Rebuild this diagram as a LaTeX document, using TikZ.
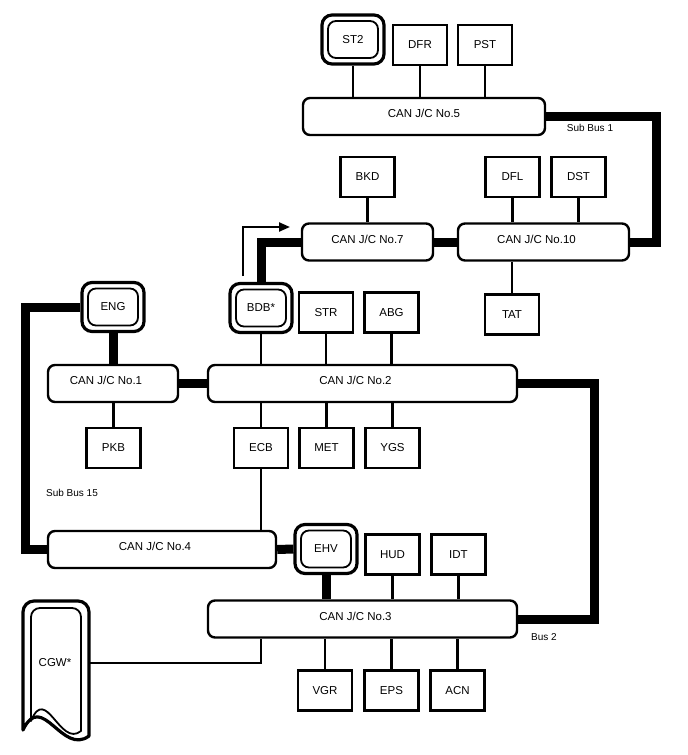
\documentclass[tikz,border=0pt]{standalone}
\usepackage{fontspec}
\setmainfont{Liberation Sans}
\usetikzlibrary{arrows.meta}

\begin{document}
\begin{tikzpicture}[x=1pt, y=-1pt,
    every node/.style={font=\fontsize{11.5}{13}\selectfont},
    ecu/.style={rectangle, draw, fill=white, line width=2.2pt,
                minimum width=54pt, minimum height=40pt, inner sep=0pt},
    gw/.style={rectangle, draw, fill=white, line width=3.2pt, rounded corners=10pt,
               minimum width=62pt, minimum height=49pt, inner sep=0pt,
               path picture={\draw[line width=1.8pt, rounded corners=8pt]
                 ([shift={(6pt,6pt)}]path picture bounding box.south west) rectangle
                 ([shift={(-6pt,-6pt)}]path picture bounding box.north east);}},
    jc/.style={rectangle, draw, fill=white, line width=2.4pt, rounded corners=7pt,
               minimum height=37pt, inner sep=0pt, text height=8.5pt, text depth=6pt},
    offset/.style={execute at end node={\hspace*{14pt}}},
    link/.style={line width=2.2pt},
    trunk/.style={line width=9pt},
    buslabel/.style={font=\fontsize{10}{12}\selectfont},
  ]
  \useasboundingbox (0,0) rectangle (688,755);

  % top group
  \node[gw] (st2) at (353,39.5) {ST2};
  \node[ecu] (dfr) at (420,45) {DFR};
  \node[ecu] (pst) at (485,45) {PST};
  \node[jc, minimum width=242pt] (jc5) at (424,116.5) {CAN J/C No.5};

  \node[ecu] (bkd) at (367.5,177) {BKD};
  \node[ecu] (dfl) at (512.5,177) {DFL};
  \node[ecu] (dst) at (578.5,177) {DST};
  \node[jc, minimum width=131pt] (jc7) at (367.5,242) {CAN J/C No.7};
  \node[jc, offset, minimum width=171pt] (jc10) at (543.5,242) {CAN J/C No.10};
  \node[ecu] (tat) at (512,314.5) {TAT};

  % middle group
  \node[gw] (eng) at (113,307) {ENG};
  \node[gw] (bdb) at (261,308) {BDB*};
  \node[ecu] (str) at (326,312.5) {STR};
  \node[ecu] (abg) at (391.5,312.5) {ABG};
  \node[jc, offset, minimum width=130pt] (jc1) at (113,383.5) {CAN J/C No.1};
  \node[jc, offset, minimum width=309pt] (jc2) at (362.5,383.5) {CAN J/C No.2};
  \node[ecu] (pkb) at (113.5,448) {PKB};
  \node[ecu] (ecb) at (261,448) {ECB};
  \node[ecu] (met) at (326.5,448) {MET};
  \node[ecu] (ygs) at (392.5,448) {YGS};

  % bottom group
  \node[jc, offset, minimum width=228pt] (jc4) at (162,549.5) {CAN J/C No.4};
  \node[gw] (ehv) at (326,549) {EHV};
  \node[ecu] (hud) at (392.5,554.5) {HUD};
  \node[ecu] (idt) at (458.5,554.5) {IDT};
  \node[jc, offset, minimum width=309pt] (jc3) at (362.5,619) {CAN J/C No.3};
  \node[ecu] (vgr) at (325,690.5) {VGR};
  \node[ecu] (eps) at (391.5,690.5) {EPS};
  \node[ecu] (acn) at (457.5,690.5) {ACN};

  \node[minimum width=66pt, minimum height=124pt, inner sep=0pt] (cgw) at (55,663) {CGW*};
  \draw[line width=3.2pt, line join=round]
    (23,730) -- (23,612) to[out=90, in=180] (34,601) -- (78,601)
    to[out=0, in=90] (89,612) -- (89,736)
    .. controls (62,756) and (42,690) .. (23,730) -- cycle;
  \draw[line width=1.8pt, line join=round]
    (31,721) -- (31,617) to[out=90, in=180] (40,608) -- (72,608)
    to[out=0, in=90] (81,617) -- (81,731)
    .. controls (60,748) and (46,684) .. (31,721) -- cycle;

  \coordinate (sb1) at (656,242);
  \coordinate (sb15) at (25,549.5);
  \coordinate (b2) at (594,619);
  \coordinate (j3w) at (261,619);
  \coordinate (fwd0) at (243,276);
  \coordinate (fwd1) at (290,227);

  \node[buslabel] (sb1txt) at (590,128) {Sub Bus 1};
  \node[buslabel] (sb15txt) at (72,493) {Sub Bus 15};
  \node[buslabel] (b2txt) at (544,637) {Bus 2};

  % branch lines
  \draw[link] (st2) -- (st2 |- jc5.north);
  \draw[link] (dfr) -- (dfr |- jc5.north);
  \draw[link] (pst) -- (pst |- jc5.north);
  \draw[link] (bkd) -- (bkd |- jc7.north);
  \draw[link] (dfl) -- (dfl |- jc10.north);
  \draw[link] (dst) -- (dst |- jc10.north);
  \draw[link] (tat) -- (tat |- jc10.south);
  \draw[link] (bdb) -- (bdb |- jc2.north);
  \draw[link] (str) -- (str |- jc2.north);
  \draw[link] (abg) -- (abg |- jc2.north);
  \draw[link] (pkb) -- (pkb |- jc1.south);
  \draw[link] (ecb) -- (ecb |- jc2.south);
  \draw[link] (met) -- (met |- jc2.south);
  \draw[link] (ygs) -- (ygs |- jc2.south);
  \draw[link] (ecb) -- (ecb |- jc4.north);
  \draw[link] (hud) -- (hud |- jc3.north);
  \draw[link] (idt) -- (idt |- jc3.north);
  \draw[link] (vgr) -- (vgr |- jc3.south);
  \draw[link] (eps) -- (eps |- jc3.south);
  \draw[link] (acn) -- (acn |- jc3.south);
  \draw[link] (cgw.east) -| (j3w |- jc3.south);
  \draw[link, -{Triangle[length=11pt, width=9pt]}] (fwd0) |- (fwd1);

  % bus lines
  \draw[trunk] (jc5.east) -| (sb1) -- (jc10.east);
  \draw[trunk] (jc7.east) -- (jc10.west);
  \draw[trunk] (bdb.north) |- (jc7.west);
  \draw[trunk] (eng.south) -- (eng.south |- jc1.north);
  \draw[trunk] (jc1.east) -- (jc2.west);
  \draw[trunk] (eng.west) -| (sb15) -- (jc4.west);
  \draw[trunk] (jc2.east) -| (b2) -- (jc3.east);
  \draw[trunk] (jc4.east) -- (ehv.west);
  \draw[trunk] (ehv.south) -- (ehv.south |- jc3.north);
\end{tikzpicture}
\end{document}
